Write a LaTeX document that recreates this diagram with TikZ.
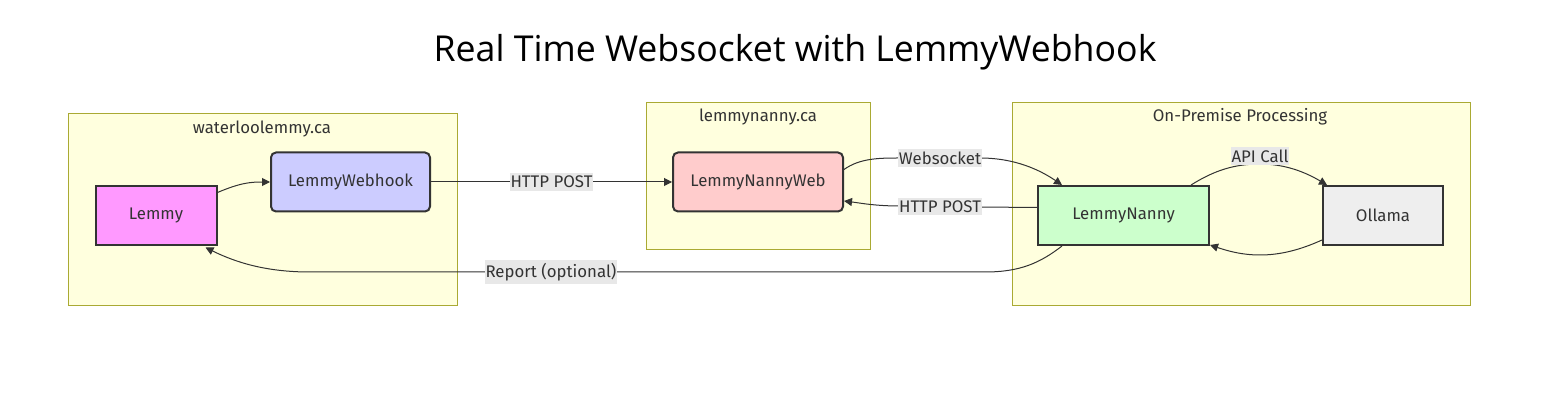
\documentclass[tikz,border=0pt]{standalone}
\usepackage{fontspec}
\setmainfont{Fira Sans}
\newfontfamily\titlefont{Open Sans}
\usetikzlibrary{arrows.meta,calc}
\definecolor{clfill}{HTML}{FFFFDE}
\definecolor{cldraw}{HTML}{AAAA33}
\definecolor{ink}{HTML}{333333}
\definecolor{lblbg}{HTML}{E8E8E8}
\definecolor{cLemmy}{HTML}{FF99FF}
\definecolor{cHook}{HTML}{CCCCFF}
\definecolor{cWeb}{HTML}{FFCCCC}
\definecolor{cNanny}{HTML}{CCFFCC}
\definecolor{cOllama}{HTML}{EEEEEE}
\tikzset{
  cluster/.style={draw=cldraw, fill=clfill, line width=1pt},
  cltitle/.style={text=ink, font=\fontsize{16.8}{18}\selectfont, inner sep=0pt},
  box/.style={draw=ink, line width=2pt, text=ink, font=\fontsize{16.8}{18}\selectfont, inner sep=0pt},
  rbox/.style={box, rounded corners=5pt},
  conn/.style={draw=ink, line width=1pt, -{Triangle[length=8pt,width=8pt]}},
  elabel/.style={fill=lblbg, text=ink, font=\fontsize{16.8}{18}\selectfont, inner xsep=1pt, inner ysep=3pt}
}
\begin{document}
\begin{tikzpicture}[x=1pt,y=-1pt]
\path[use as bounding box, fill=white] (0,0) rectangle (1549,419);
\node[font=\titlefont\fontsize{35.7}{40}\selectfont, text=black] (title) at (795,52) {Real Time Websocket with LemmyWebhook};
% clusters
\draw[cluster] (68,114) rectangle (457,306);
\draw[cluster] (646,103) rectangle (870,250);
\draw[cluster] (1012,103) rectangle (1470,306);
\node[cltitle] (c1) at (262,129) {waterloolemmy.ca};
\node[cltitle] (c2) at (758,117) {lemmynanny.ca};
\node[cltitle] (c3) at (1240,117) {On-Premise Processing};
% nodes
\node[box, fill=cLemmy, minimum width=121pt, minimum height=59pt] (lemmy) at (156,216) {Lemmy};
\node[rbox, fill=cHook, minimum width=159pt, minimum height=59pt] (hook) at (350.5,182) {LemmyWebhook};
\node[rbox, fill=cWeb, minimum width=170pt, minimum height=59pt] (web) at (758,182) {LemmyNannyWeb};
\node[box, fill=cNanny, minimum width=171pt, minimum height=59pt] (nanny) at (1123.5,215.5) {LemmyNanny};
\node[box, fill=cOllama, minimum width=120pt, minimum height=59pt] (ollama) at (1383,215.5) {Ollama};
% edges
\draw[conn] ($(lemmy.north east)+(0,7)$) .. controls (240,183) and (250,182) .. (hook.west);
\draw[conn] (hook.east) -- node[elabel] (l1) {HTTP POST} (web.west);
\draw[conn] ($(web.north east)+(0,18)$) .. controls (860,158) and (880,158) .. (900,158)
   -- node[elabel] (l2) {Websocket} (980,158) .. controls (1015,158) and (1040,170) .. ($(nanny.north west)+(25,0)$);
\draw[conn] ($(nanny.west)+(0,-8)$) -- (980,207) -- node[elabel] (l3) {HTTP POST} (900,206) .. controls (875,206) and (860,203) .. ($(web.east)+(0,19)$);
\draw[conn] ($(nanny.north east)+(-19,0)$) .. controls (1215,170) and (1235,164) .. (1260,164)
   .. controls (1285,164) and (1305,172) .. ($(ollama.north west)+(5,0)$);
\node[elabel] (l4) at (1260,156) {API Call};
\draw[conn] ($(ollama.south west)+(0,-6)$) .. controls (1300,250) and (1280,255) .. (1260,255)
   .. controls (1240,255) and (1225,250) .. ($(nanny.south east)+(0,-1)$);
\draw[conn] ($(nanny.south west)+(25,0)$) .. controls (1040,263) and (1020,272) .. (985,272)
   -- node[elabel, pos=0.643] (l5) {Report (optional)} (310,272) .. controls (265,272) and (235,262) .. ($(lemmy.south east)+(-12,1)$);
\end{tikzpicture}
\end{document}
